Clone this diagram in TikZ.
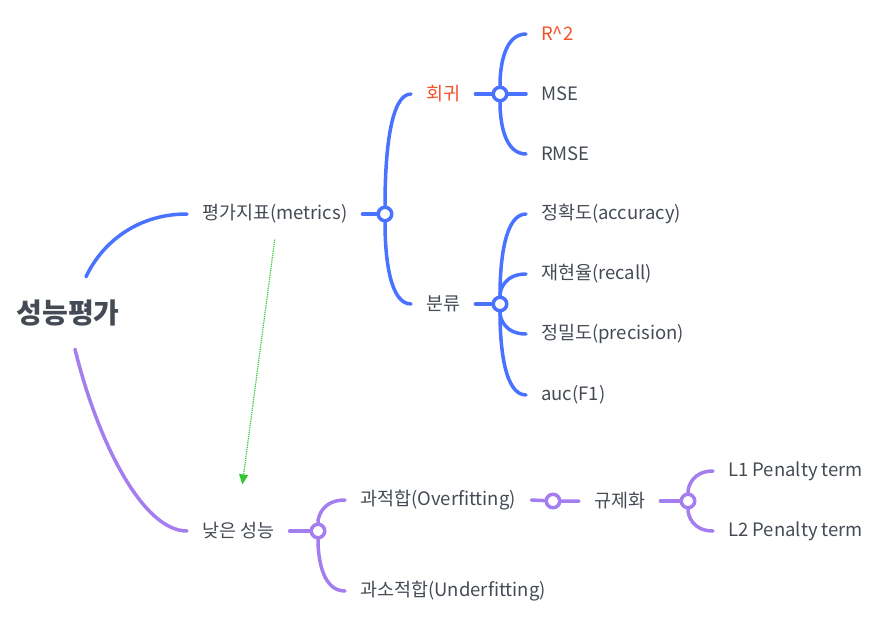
\documentclass[tikz,border=0pt]{standalone}
\usepackage{fontspec}
\setmainfont{Noto Sans CJK KR}
\usetikzlibrary{arrows.meta,backgrounds,calc}
\definecolor{txtgray}{HTML}{454B54}
\definecolor{mapblue}{HTML}{4872FF}
\definecolor{mappurple}{HTML}{A47DEE}
\definecolor{mapred}{HTML}{F5502A}
\definecolor{mapgreen}{HTML}{33C633}
\tikzset{
  topic/.style  = {anchor=west, inner xsep=15pt, inner ysep=4pt, text=txtgray,
                   font=\fontsize{18.5}{22}\selectfont},
  root/.style   = {text=txtgray, font=\fontsize{28}{32}\selectfont\bfseries,
                   minimum height=72pt},
  knot/.style   = {circle, line width=3.5pt, fill=white, inner sep=0pt,
                   minimum size=13.5pt},
  blu/.style    = {line width=3.5pt, mapblue, line cap=round},
  pur/.style    = {line width=3.5pt, mappurple, line cap=round},
  branch/.style = {to path={.. controls ($(\tikztostart)!0.5!(\tikztostart |- \tikztotarget)$)
                   and ($(\tikztostart |- \tikztotarget)!0.2!(\tikztotarget)$) .. (\tikztotarget)}},
  link/.style   = {-{Triangle[length=10pt,width=9pt]}, mapgreen, densely dotted,
                   line width=1.2pt},
}

\begin{document}
\begin{tikzpicture}[x=1pt,y=-1pt]
  \useasboundingbox (0,0) rectangle (879,627);
  \node[root] (perf) at (68,313) {성능평가};
  % metrics
  \node[topic] (met) at (187,214) {평가지표(metrics)};
  \node[knot, draw=mapblue] (k1) at (385,214) {};
  \node[topic, text=mapred] (reg) at (411,94) {회귀};
  \node[topic] (cls) at (411,304) {분류};
  \node[knot, draw=mapblue] (k2) at (500,94) {};
  \node[knot, draw=mapblue] (k3) at (500,304) {};
  \node[topic, text=mapred] (r2) at (526,34) {R\textasciicircum 2};
  \node[topic] (mse) at (526,94) {MSE};
  \node[topic] (rmse) at (526,154) {RMSE};
  \node[topic] (acc) at (526,214) {정확도(accuracy)};
  \node[topic] (rec) at (526,274) {재현율(recall)};
  \node[topic] (pre) at (526,334) {정밀도(precision)};
  \node[topic] (auc) at (526,395) {auc(F1)};
  % low performance
  \node[topic] (low) at (187,531) {낮은 성능};
  \node[knot, draw=mappurple] (k4) at (318,531) {};
  \node[topic] (over) at (345,500) {과적합(Overfitting)};
  \node[topic] (under) at (345,591) {과소적합(Underfitting)};
  \node[knot, draw=mappurple] (k5) at (553,501) {};
  \node[topic] (regu) at (579,501) {규제화};
  \node[knot, draw=mappurple] (k6) at (688,501) {};
  \node[topic] (l1) at (713,471) {L1 Penalty term};
  \node[topic] (l2) at (713,531) {L2 Penalty term};

  \begin{scope}[on background layer]
    \draw[blu] ([xshift=18pt]perf.north) .. controls +(16,-34) and +(-50,0) .. (met.west);
    \draw[blu] (met.east) -- (k1);
    \draw[blu] (k1) to[branch] (reg.west);
    \draw[blu] (k1) to[branch] (cls.west);
    \draw[blu] (reg.east) -- (k2) -- (mse.west);
    \draw[blu] (k2) to[branch] (r2.west);
    \draw[blu] (k2) to[branch] (rmse.west);
    \draw[blu] (cls.east) -- (k3);
    \foreach \leaf in {acc,rec,pre,auc}
      \draw[blu] (k3) to[branch] (\leaf.west);
    \draw[pur] ([xshift=7pt]perf.south) .. controls +(22,90) and +(-45,0) .. (low.west);
    \draw[pur] (low.east) -- (k4);
    \draw[pur] (k4) to[branch] (over.west);
    \draw[pur] (k4) to[branch] (under.west);
    \draw[pur] (over.east) -- (k5) -- (regu.west);
    \draw[pur] (regu.east) -- (k6);
    \draw[pur] (k6) to[branch] (l1.west);
    \draw[pur] (k6) to[branch] (l2.west);
  \end{scope}

  \draw[link] ([yshift=-12pt]met.south) -- ([xshift=4pt,yshift=34pt]low.north);
\end{tikzpicture}
\end{document}
